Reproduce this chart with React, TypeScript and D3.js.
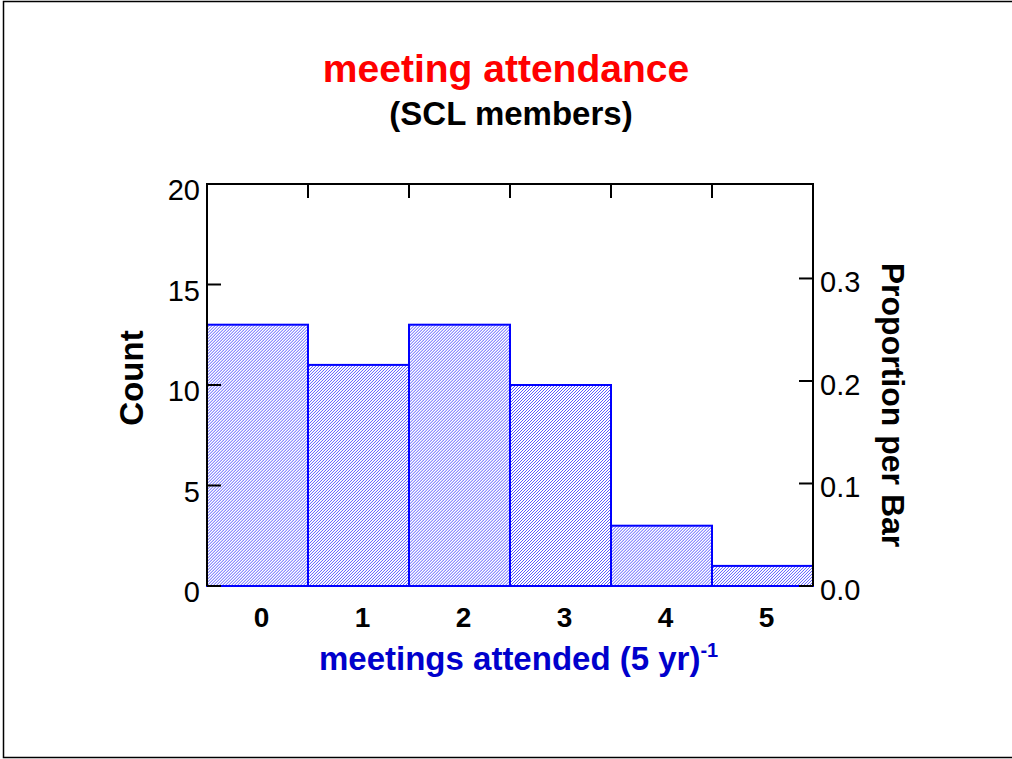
import React from "react";
import * as d3 from "d3";

const categories = [0, 1, 2, 3, 4, 5];
const counts = [13, 11, 13, 10, 3, 1];
const countTicks = [0, 5, 10, 15, 20];
const propTicks = [0.0, 0.1, 0.2, 0.3];
const boundaryTicks = [0.5, 1.5, 2.5, 3.5, 4.5];

const W = 1012;
const H = 759;
const left = 207;
const right = 813;
const top = 184;
const bottom = 586;
const font = "'Liberation Sans', Arial, sans-serif";
const blue = "#0000ff";

export default function App() {
  const total = d3.sum(counts);
  const x = d3.scaleLinear().domain([-0.5, 5.5]).range([left, right]);
  const y = d3.scaleLinear().domain([0, 20]).range([bottom, top]);
  const yp = d3.scaleLinear().domain([0, 20 / total]).range([bottom, top]);
  const tick = 14;

  const bars = counts.map((c, i) => {
    const x0 = x(categories[i] - 0.5);
    const x1 = x(categories[i] + 0.5);
    return { x0, x1, y0: y(c), y1: y(0) };
  });

  return (
    <svg
      width={W}
      height={H}
      style={{ position: "absolute", left: 0, top: 0, background: "#fff" }}
      fontFamily={font}
    >
      <defs>
        {bars.map((b, i) => (
          <clipPath id={`clip${i}`} key={i}>
            <rect x={b.x0} y={b.y0} width={b.x1 - b.x0} height={b.y1 - b.y0} />
          </clipPath>
        ))}
      </defs>
      <rect x={3.5} y={1.5} width={1012} height={756} fill="none" stroke="#000" strokeWidth={1.5} />

      <text x={506} y={82} textAnchor="middle" fill="#ff0000" fontWeight="bold" fontSize={39}>
        meeting attendance
      </text>
      <text x={511} y={125} textAnchor="middle" fill="#000" fontWeight="bold" fontSize={33}>
        (SCL members)
      </text>

      {bars.map((b, i) => {
        const h = b.y1 - b.y0;
        const starts = d3.range(b.x0 - h, b.x1 + 3, 3);
        const d = starts.map((s) => `M${s},${b.y1} L${s + h},${b.y0}`).join(" ");
        return (
          <g key={i}>
            <rect x={b.x0} y={b.y0} width={b.x1 - b.x0} height={h} fill="#fff" />
            <path d={d} stroke="#3030ff" strokeWidth={0.8} clipPath={`url(#clip${i})`} />
            <rect
              x={b.x0}
              y={b.y0}
              width={b.x1 - b.x0}
              height={h}
              fill="none"
              stroke={blue}
              strokeWidth={2}
            />
          </g>
        );
      })}

      <path
        d={`M${left},${bottom} V${top} H${right} V${bottom}`}
        fill="none"
        stroke="#000"
        strokeWidth={2}
      />

      {countTicks.map((t) => (
        <g key={t}>
          <line x1={left} x2={left + tick} y1={y(t)} y2={y(t)} stroke="#000" strokeWidth={2} />
          <text x={200} y={y(t) + 16} textAnchor="end" fontSize={29} fill="#000">
            {t}
          </text>
        </g>
      ))}

      {propTicks.map((t) => (
        <g key={t}>
          <line x1={right - tick} x2={right} y1={yp(t)} y2={yp(t)} stroke="#000" strokeWidth={2} />
          <text x={820} y={yp(t) + 14} textAnchor="start" fontSize={29} fill="#000">
            {t.toFixed(1)}
          </text>
        </g>
      ))}

      {boundaryTicks.map((t) => (
        <line key={t} x1={x(t)} x2={x(t)} y1={top} y2={top + tick} stroke="#000" strokeWidth={2} />
      ))}

      {categories.map((c) => (
        <text
          key={c}
          x={x(c) + 4}
          y={627}
          textAnchor="middle"
          fontSize={28}
          fontWeight="bold"
          fill="#000"
        >
          {c}
        </text>
      ))}

      <text
        transform={`translate(143,378) rotate(-90)`}
        textAnchor="middle"
        fontSize={33}
        fontWeight="bold"
        fill="#000"
      >
        Count
      </text>
      <text
        transform={`translate(882,405) rotate(90)`}
        textAnchor="middle"
        fontSize={32}
        fontWeight="bold"
        fill="#000"
      >
        Proportion per Bar
      </text>

      <text x={319} y={670} textAnchor="start" fontSize={33} fontWeight="bold" fill="#0000cc">
        meetings attended (5 yr)
        <tspan fontSize={20} dy={-13}>-1</tspan>
      </text>
    </svg>
  );
}
